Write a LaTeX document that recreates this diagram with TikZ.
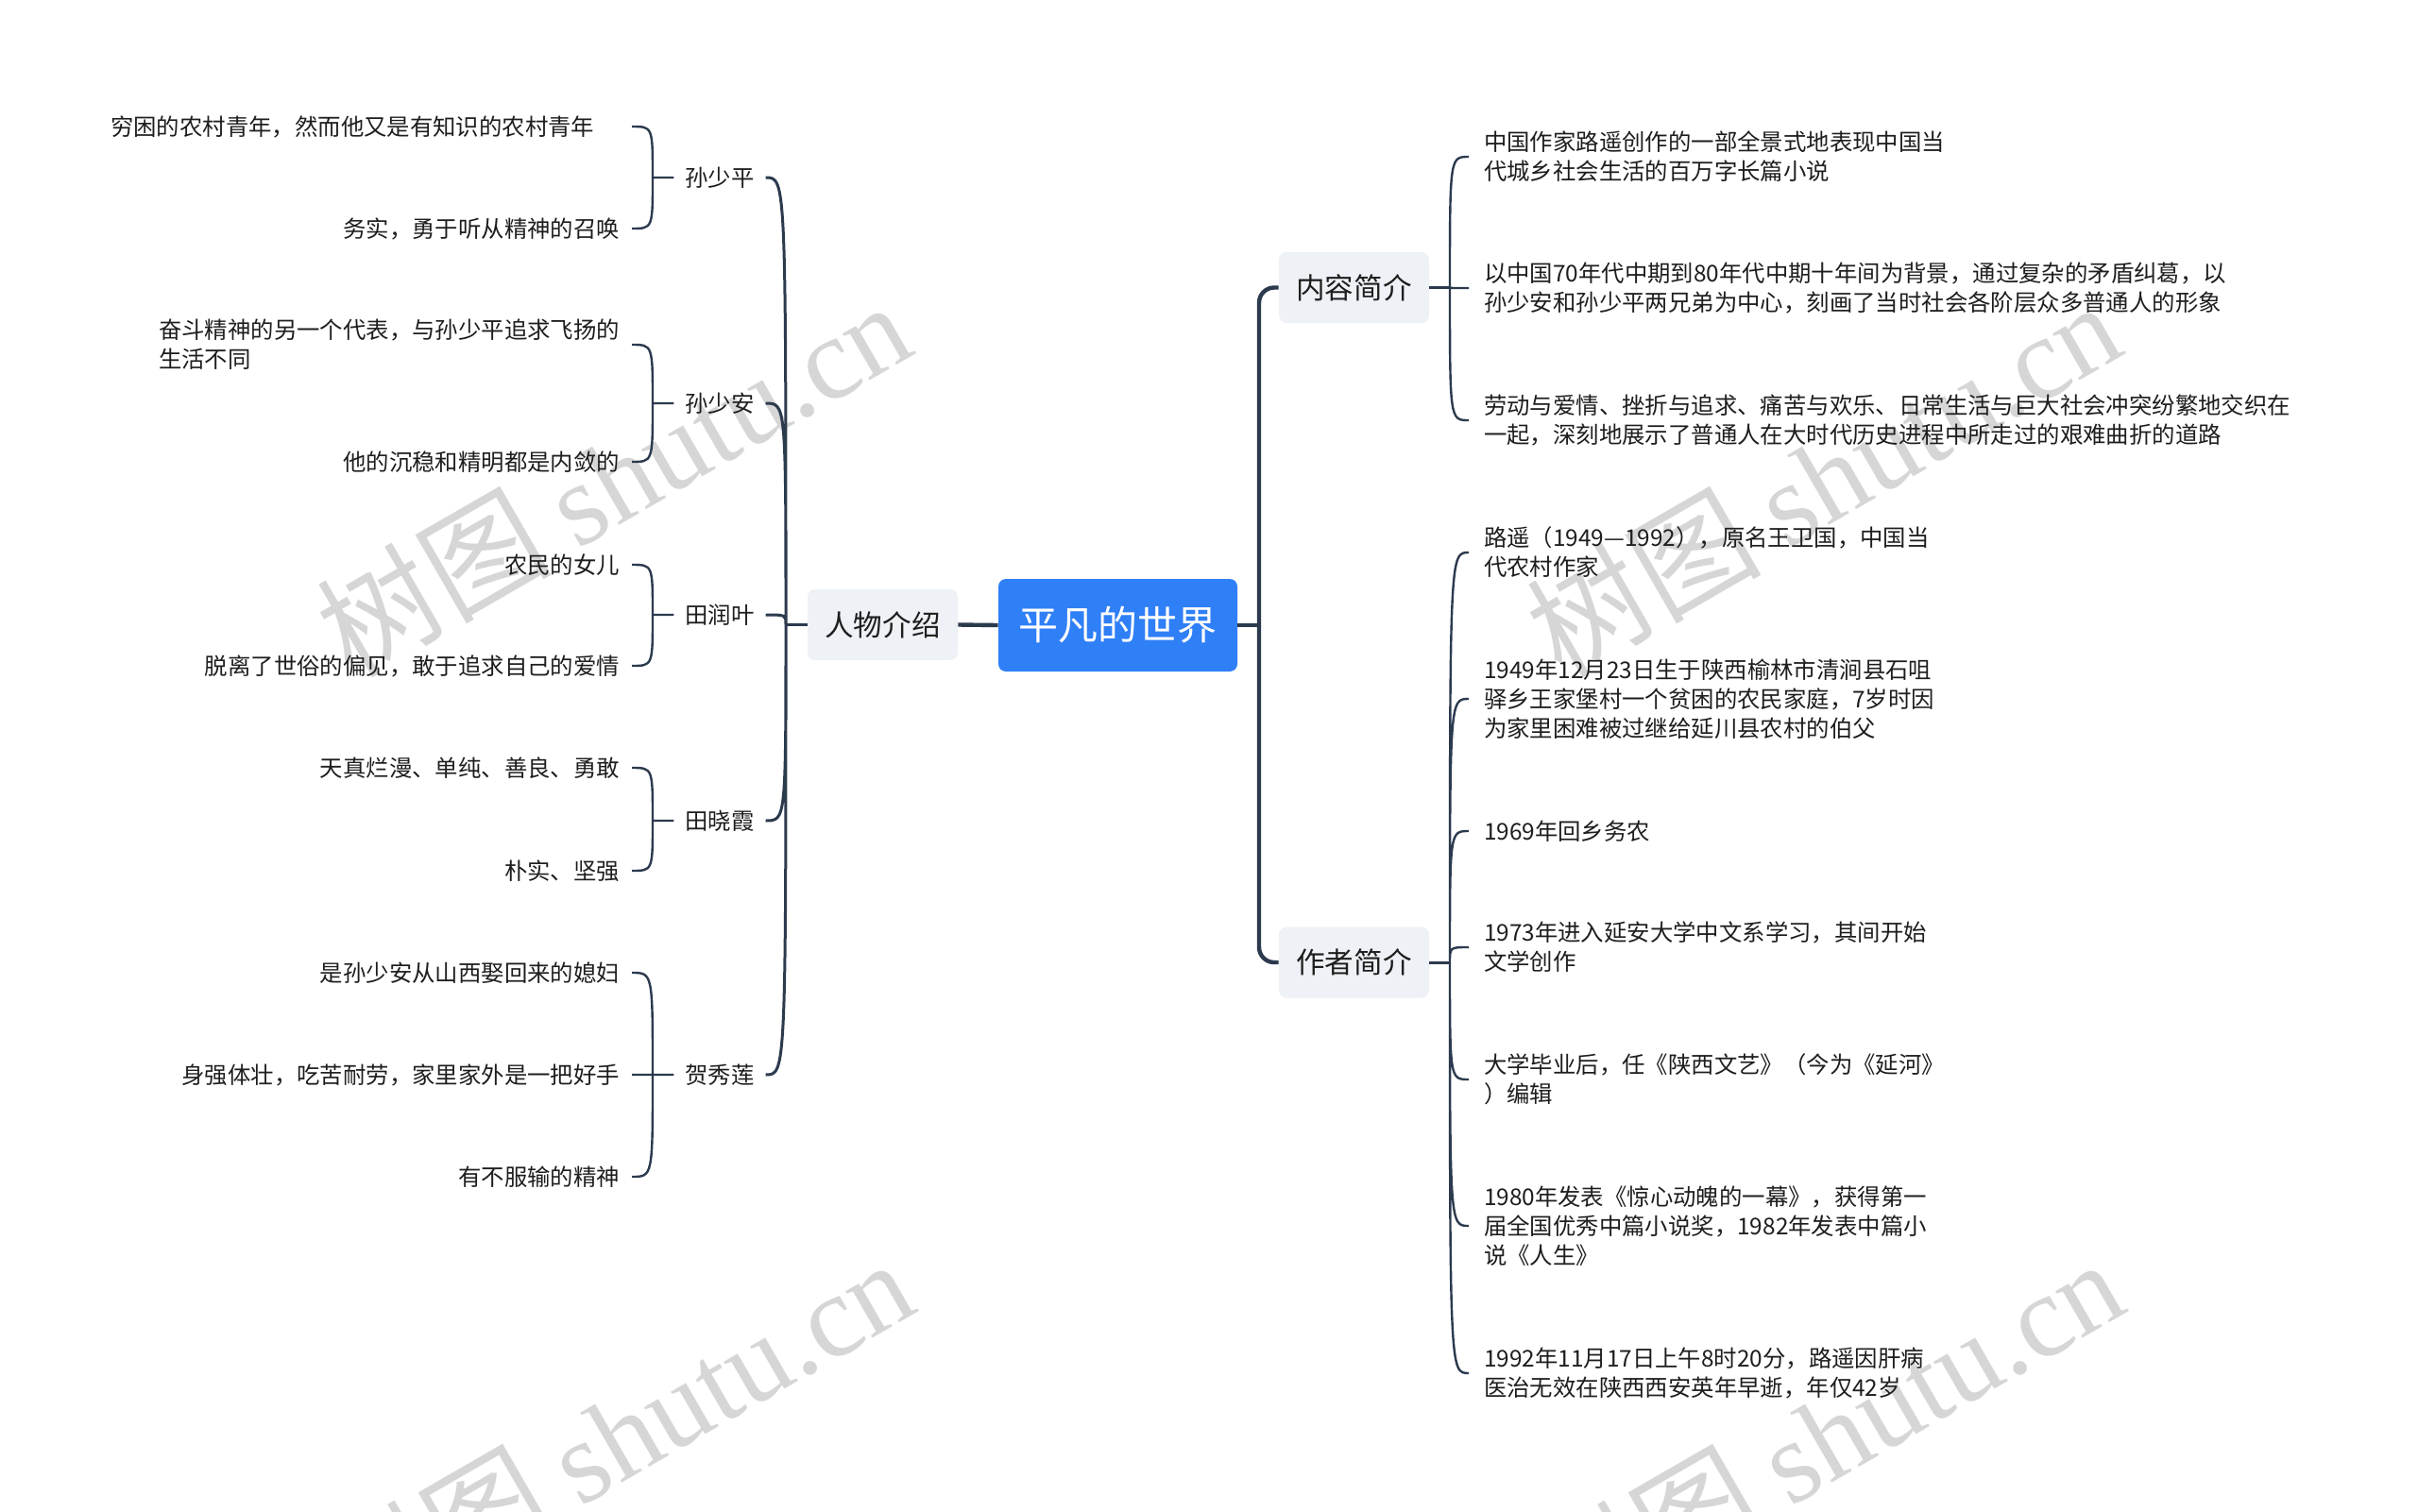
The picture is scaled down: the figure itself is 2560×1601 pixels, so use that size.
\documentclass[tikz,border=0pt]{standalone}
\usepackage{fontspec}
\setmainfont{Noto Sans CJK SC}
\newfontfamily\wmfont{Liberation Serif}
\usetikzlibrary{calc}
\definecolor{mapblue}{RGB}{47,127,246}
\definecolor{boxgray}{RGB}{238,241,245}
\definecolor{linedark}{RGB}{44,58,78}
\definecolor{textdark}{RGB}{30,30,30}
\definecolor{wmgray}{RGB}{214,214,214}

\begin{document}
\begin{tikzpicture}[x=0.5pt, y=-0.5pt,
  every node/.style={font=\fontsize{12.2pt}{15.5pt}\selectfont, text=textdark},
  root/.style={rectangle, rounded corners=4pt, fill=mapblue, text=white,
               minimum width=126.5pt, minimum height=49pt,
               font=\fontsize{21pt}{25pt}\selectfont},
  topic/.style={rectangle, rounded corners=4pt, fill=boxgray,
                minimum width=79.5pt, minimum height=37.5pt,
                font=\fontsize{15.3pt}{18pt}\selectfont},
  kid/.style={inner sep=0pt, outer xsep=6pt},
  leafl/.style={inner sep=0pt, outer xsep=6.5pt, anchor=east, align=left},
  leafr/.style={inner sep=0pt, outer xsep=8pt, anchor=west, align=left},
  curl/.style={to path={.. controls (\tikztostart |- \tikztotarget) .. (\tikztotarget)}},
  mainln/.style={draw=linedark, line width=2.2pt},
  subln/.style={draw=linedark, line width=1.5pt, curl},
  leafln/.style={draw=linedark, line width=1.2pt, curl},
  wmark/.style={rotate=30, text=wmgray, font=\fontsize{62pt}{62pt}\selectfont}
]
\useasboundingbox (0,0) rectangle (2560,1601);
\clip (0,0) rectangle (2560,1601);
\fill[white] (0,0) rectangle (2560,1601);

% watermarks
\node[wmark] (wm1) at (649,506)  {树图 {\wmfont shutu.cn}};
\node[wmark] (wm2) at (1930,506) {树图 {\wmfont shutu.cn}};
\node[wmark] (wm3) at (652,1520) {树图 {\wmfont shutu.cn}};
\node[wmark] (wm4) at (1933,1520) {树图 {\wmfont shutu.cn}};

% centre and main topics
\node[root]  (world)   at (1183.5,662) {平凡的世界};
\node[topic] (people)  at (934.5,661.5) {人物介绍};
\node[topic] (content) at (1433.5,304.5) {内容简介};
\node[topic] (author)  at (1433.5,1019) {作者简介};

% characters
\node[kid] (ssp) at (762,188)  {孙少平};
\node[kid] (ssa) at (762,427)  {孙少安};
\node[kid] (try) at (762,651)  {田润叶};
\node[kid] (txx) at (762,869)  {田晓霞};
\node[kid] (hxl) at (762,1138) {贺秀莲};

\node[leafl, text width=269.5pt] (p1) at (669,134) {穷困的农村青年，然而他又是有知识的农村青年};
\node[leafl] (p2) at (669,242)  {务实，勇于听从精神的召唤};
\node[leafl] (a1) at (669,365)  {奋斗精神的另一个代表，与孙少平追求飞扬的\\生活不同};
\node[leafl] (a2) at (669,489)  {他的沉稳和精明都是内敛的};
\node[leafl] (r1) at (669,598)  {农民的女儿};
\node[leafl] (r2) at (669,705)  {脱离了世俗的偏见，敢于追求自己的爱情};
\node[leafl] (x1) at (669,813)  {天真烂漫、单纯、善良、勇敢};
\node[leafl] (x2) at (669,922)  {朴实、坚强};
\node[leafl] (h1) at (669,1030) {是孙少安从山西娶回来的媳妇};
\node[leafl] (h2) at (669,1138) {身强体壮，吃苦耐劳，家里家外是一把好手};
\node[leafl] (h3) at (669,1246) {有不服输的精神};

% content
\node[leafr] (n1) at (1555,166) {中国作家路遥创作的一部全景式地表现中国当\\代城乡社会生活的百万字长篇小说};
\node[leafr] (n2) at (1555,305) {以中国70年代中期到80年代中期十年间为背景，通过复杂的矛盾纠葛，以\\孙少安和孙少平两兄弟为中心，刻画了当时社会各阶层众多普通人的形象};
\node[leafr] (n3) at (1555,445) {劳动与爱情、挫折与追求、痛苦与欢乐、日常生活与巨大社会冲突纷繁地交织在\\一起，深刻地展示了普通人在大时代历史进程中所走过的艰难曲折的道路};

% author
\node[leafr] (z1) at (1555,585)  {路遥（1949—1992），原名王卫国，中国当\\代农村作家};
\node[leafr] (z2) at (1555,740)  {1949年12月23日生于陕西榆林市清涧县石咀\\驿乡王家堡村一个贫困的农民家庭，7岁时因\\为家里困难被过继给延川县农村的伯父};
\node[leafr] (z3) at (1555,880)  {1969年回乡务农};
\node[leafr] (z4) at (1555,1003) {1973年进入延安大学中文系学习，其间开始\\文学创作};
\node[leafr] (z5) at (1555,1143) {大学毕业后，任《陕西文艺》（今为《延河》\\）编辑};
\node[leafr] (z6) at (1555,1298) {1980年发表《惊心动魄的一幕》，获得第一\\届全国优秀中篇小说奖，1982年发表中篇小\\说《人生》};
\node[leafr] (z7) at (1555,1454) {1992年11月17日上午8时20分，路遥因肝病\\医治无效在陕西西安英年早逝，年仅42岁};

% junctions
\coordinate (jR) at (1333,662);
\coordinate (jL) at (832,661.5);
\coordinate (jN) at (1535,304.5);
\coordinate (jZ) at (1535,1019);
\coordinate (jp) at (691,188);
\coordinate (ja) at (691,427);
\coordinate (jr) at (691,651);
\coordinate (jx) at (691,869);
\coordinate (jh) at (691,1138);

% connectors
\draw[mainln] (world.west) -- (people.east);
\draw[mainln] (world.east) -- (jR);
\draw[mainln, rounded corners=8pt] (jR) |- (content.west);
\draw[mainln, rounded corners=8pt] (jR) |- (author.west);

\draw[subln] (people.west) -- (jL);
\draw[subln] (jL) to (ssp.east) (jL) to (ssa.east) (jL) to (try.east)
             (jL) to (txx.east) (jL) to (hxl.east);
\draw[subln] (content.east) -- (jN);
\draw[subln] (author.east) -- (jZ);

\draw[leafln] (ssp.west) -- (jp) (jp) to (p1.east) (jp) to (p2.east);
\draw[leafln] (ssa.west) -- (ja) (ja) to (a1.east) (ja) to (a2.east);
\draw[leafln] (try.west) -- (jr) (jr) to (r1.east) (jr) to (r2.east);
\draw[leafln] (txx.west) -- (jx) (jx) to (x1.east) (jx) to (x2.east);
\draw[leafln] (hxl.west) -- (jh) (jh) to (h1.east) (jh) to (h2.east) (jh) to (h3.east);

\draw[leafln] (jN) to (n1.west) (jN) to (n2.west) (jN) to (n3.west);
\draw[leafln] (jZ) to (z1.west) (jZ) to (z2.west) (jZ) to (z3.west) (jZ) to (z4.west)
              (jZ) to (z5.west) (jZ) to (z6.west) (jZ) to (z7.west);
\end{tikzpicture}
\end{document}
